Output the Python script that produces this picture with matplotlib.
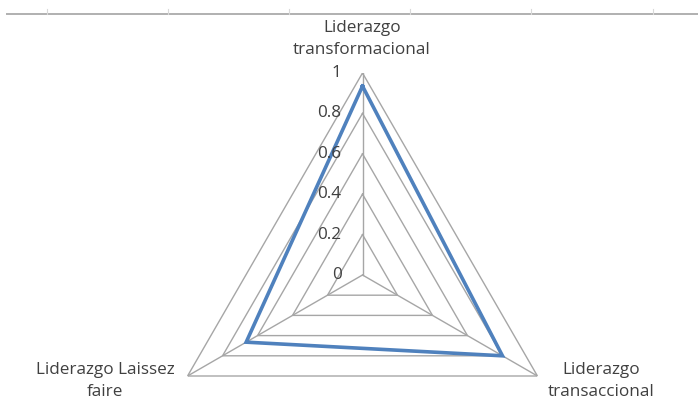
import numpy as np
import matplotlib
matplotlib.use("Agg")
import matplotlib.pyplot as plt
from matplotlib.transforms import offset_copy
from matplotlib.lines import Line2D

categories = ["Liderazgo\ntransformacional", "Liderazgo\ntransaccional", "Liderazgo Laissez\nfaire"]
values = [0.935, 0.80, 0.665]
levels = [0, 0.2, 0.4, 0.6, 0.8, 1.0]
level_labels = ["0", "0.2", "0.4", "0.6", "0.8", "1"]

W, H = 698, 400
fig = plt.figure(figsize=(W / 100, H / 100), dpi=100)
plt.rcParams['font.family'] = ['Open Sans', 'DejaVu Sans']

cx, cy, R = 362.5, 275.0, 202.0
ax = fig.add_axes([(cx - R) / W, (H - cy - R) / H, 2 * R / W, 2 * R / H], projection='polar')
ax.set_theta_offset(np.pi / 2)
ax.set_theta_direction(-1)
ax.set_ylim(0, 1)
ax.grid(False)
ax.spines['polar'].set_visible(False)
ax.set_xticks([])
ax.set_yticks([])
ax.patch.set_alpha(0)

n = len(categories)
theta = np.arange(n) * 2 * np.pi / n
theta_c = np.append(theta, theta[0])

grid_col = '#a6a6a6'
for L in levels[1:]:
    ax.plot(theta_c, [L] * (n + 1), color=grid_col, lw=1.0, zorder=1)
for t in theta:
    ax.plot([t, t], [0, 1], color=grid_col, lw=1.0, zorder=1)

ax.plot(theta_c, values + [values[0]], color='#4F81BD', lw=2.6, zorder=3,
        solid_joinstyle='miter')

txt_col = '#404040'
fs = 12.3
off = offset_copy(ax.transData, fig=fig, x=-21, y=0, units='dots')
for L, lab in zip(levels, level_labels):
    ax.text(0, L, lab, transform=off, ha='right', va='center', fontsize=fs,
            color=txt_col, zorder=4)

# category labels
pos = [(362, 39), (601, 381), (105, 381)]
for lab, (x, y) in zip(categories, pos):
    fig.text(x / W, 1 - y / H, lab, ha='center', va='center', fontsize=fs,
             color=txt_col, linespacing=1.45)

# top border line with tick marks (spreadsheet decoration)
fig.add_artist(Line2D([7 / W, 1], [1 - 14 / H] * 2, color='#b0b0b0', lw=1.4,
                      transform=fig.transFigure))
for x in [47, 168, 289, 410, 531, 653]:
    fig.add_artist(Line2D([x / W] * 2, [1 - 9 / H, 1 - 14 / H], color='#d9d9d9',
                          lw=0.8, transform=fig.transFigure))

fig.savefig('out.png', dpi=100)
